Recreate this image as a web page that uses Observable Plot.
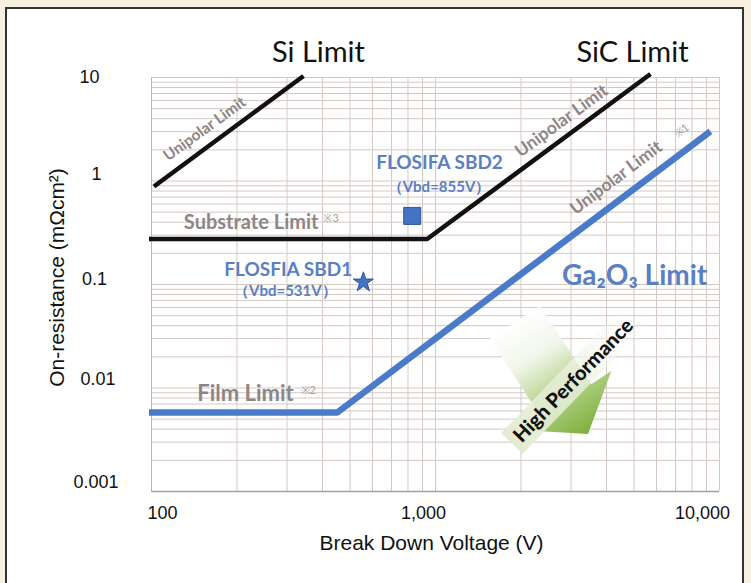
<!DOCTYPE html>
<html><head><meta charset="utf-8">
<script src="https://cdn.jsdelivr.net/npm/d3@7"></script>
<script src="https://cdn.jsdelivr.net/npm/@observablehq/plot@0.6"></script>
<style>
html,body{margin:0;padding:0;}
body{width:751px;height:583px;background:#f8f0df;position:relative;overflow:hidden;}
#panel{position:absolute;left:5px;top:7px;width:735px;height:620px;background:#fff;border:2px solid #333;border-bottom:none;}
#chart{position:absolute;left:0;top:0;}
</style></head><body><div id="panel"></div><div id="chart"></div>
<script>
// ---- axes ----
const xTickValues = [100, 1000, 10000];
const xTickLabels = ["100", "1,000", "10,000"];
const yTickValues = [10, 1, 0.1, 0.01, 0.001];
const yTickLabels = ["10", "1", "0.1", "0.01", "0.001"];
const xAxisTitle = "Break Down Voltage (V)";
const yAxisTitle = "On-resistance (mΩcm²)";

// ---- limit lines (Break down voltage V, On-resistance mΩcm²) ----
const siX = [102, 343];
const siY = [0.885, 10.35];
const sicX = [98, 935, 5715];
const sicY = [0.275, 0.275, 10.8];
const gaX = [98, 451, 9290];
const gaY = [0.0058, 0.0058, 3.01];

// ---- devices ----
const starX = [557];
const starY = [0.105];
const squareX = [828];
const squareY = [0.46];

// ---- annotations ----
const limitTitles = ["Si Limit", "SiC Limit"];
const limitTitleX = [387, 4940];
const limitTitleY = [17.3, 17.3];

const unipolarText = ["Unipolar Limit", "Unipolar Limit", "Unipolar Limit"];
const unipolarX = [154, 2780, 4325];
const unipolarY = [3.19, 3.81, 1.074];
const unipolarAngle = [-36, -36, -37];

const grayText = ["Substrate Limit", "Film Limit"];
const grayX = [130, 145];
const grayY = [0.395, 0.00883];

const noteText = ["※3", "※2", "※1"];
const noteX = [403, 335, 7000];
const noteY = [0.431, 0.00944, 2.75];

const deviceNames = ["FLOSFIA SBD1", "FLOSIFA SBD2"];
const deviceNameX = [303, 1033];
const deviceNameY = [0.139, 1.48];
const deviceVbdText = ["（Vbd=531V）", "（Vbd=855V）"];
const deviceVbdX = [296, 1029];
const deviceVbdY = [0.0871, 0.865];

const gaTitle = ["Ga₂O₃ Limit"];
const gaTitleX = [5024];
const gaTitleY = [0.1216];

const hpText = ["High Performance"];
const hpX = [3062];
const hpY = [0.01178];
const hpAngle = -46;
const arrowFrom = [1912, 0.0428];
const arrowTo = [3457, 0.00355];

const xGrid = d3.scaleLog().domain([100, 10000]).ticks();
const yGrid = d3.scaleLog().domain([0.001, 10]).ticks();

const blue = "#4a7bc8", blueText = "#5a80c3", gray = "#8e8686";
const ann = "Lato, 'Open Sans', sans-serif";
const axisFont = "'Liberation Sans', Arial, sans-serif";

function highPerformance(index, scales) {
  const X = scales.x, Y = scales.y;
  const t = [X(arrowFrom[0]), Y(arrowFrom[1])];
  const p = [X(arrowTo[0]), Y(arrowTo[1])];
  const dx = p[0] - t[0], dy = p[1] - t[1], len = Math.hypot(dx, dy);
  const u = [dx / len, dy / len], n = [-u[1], u[0]];
  const headLen = 40, headHalf = 54, shaftHalf = 30;
  const b = [p[0] - u[0] * headLen, p[1] - u[1] * headLen];
  const off = (c, k) => [c[0] + n[0] * k, c[1] + n[1] * k];
  const poly = [off(t, shaftHalf), off(b, shaftHalf), off(b, headHalf), p, off(b, -headHalf), off(b, -shaftHalf), off(t, -shaftHalf)];
  const g = d3.create("svg:g");
  const defs = g.append("defs");
  const grad = defs.append("linearGradient").attr("id", "hpArrowGrad")
    .attr("gradientUnits", "userSpaceOnUse")
    .attr("x1", t[0]).attr("y1", t[1]).attr("x2", p[0]).attr("y2", p[1]);
  [[0, "#ffffff"], [0.3, "#f1f6ea"], [0.6, "#b8d58f"], [1, "#7daf3c"]]
    .forEach(([o, c]) => grad.append("stop").attr("offset", o).attr("stop-color", c));
  const bg = defs.append("linearGradient").attr("id", "hpBandGrad");
  [[0, "#e2eacf", 0.95], [0.6, "#f0f4e8", 0.7], [1, "#ffffff", 0]]
    .forEach(([o, c, op]) => bg.append("stop").attr("offset", o).attr("stop-color", c).attr("stop-opacity", op));
  g.append("path").attr("d", "M" + poly.map(q => q.join(",")).join("L") + "Z").attr("fill", "url(#hpArrowGrad)");
  const c = [X(hpX[0]), Y(hpY[0])];
  g.append("rect").attr("x", -88).attr("y", -15).attr("width", 185).attr("height", 30)
    .attr("transform", `translate(${c[0]},${c[1]}) rotate(${hpAngle})`)
    .attr("fill", "url(#hpBandGrad)");
  return g.node();
}

const xNudge = [11, -12, -17];
const yNudgeX = [-62, -55, -57, -53.5, -55.5];
const yNudgeY = [0, -7, -5, -8.5, -9];

const chart = Plot.plot({
  width: 751, height: 583,
  marginLeft: 151, marginRight: 32, marginTop: 77, marginBottom: 92,
  x: {type: "log", domain: [100, 10000], axis: null},
  y: {type: "log", domain: [0.001, 10], axis: null},
  style: {background: "transparent", overflow: "visible"},
  marks: [
    Plot.ruleX(xGrid, {stroke: "#d4c8c5", strokeWidth: 1}),
    Plot.ruleY(yGrid, {stroke: "#d4c8c5", strokeWidth: 1}),
    Plot.ruleY([0.001], {stroke: "#a89e9b", strokeWidth: 1.5}),
    Plot.ruleX([100], {stroke: "#bfb5b2", strokeWidth: 1}),
    highPerformance,
    Plot.text(hpText, {x: () => hpX[0], y: () => hpY[0], text: d => d, rotate: hpAngle, fontFamily: ann, fontWeight: 900, fontSize: 20, fill: "#111"}),
    Plot.line(siX.map((x, i) => ({x, y: siY[i]})), {x: "x", y: "y", stroke: "#111", strokeWidth: 4.5, strokeLinecap: "butt"}),
    Plot.line(sicX.map((x, i) => ({x, y: sicY[i]})), {x: "x", y: "y", stroke: "#111", strokeWidth: 4.5, strokeLinecap: "butt", strokeLinejoin: "miter"}),
    Plot.line(gaX.map((x, i) => ({x, y: gaY[i]})), {x: "x", y: "y", stroke: blue, strokeWidth: 6.5, strokeLinecap: "butt", strokeLinejoin: "miter"}),
    Plot.dot(starX, {x: d => d, y: (d, i) => starY[i], symbol: "star", r: 6.3, fill: "#4472c4", stroke: "#2f5597", strokeWidth: 1}),
    Plot.dot(squareX, {x: d => d, y: (d, i) => squareY[i], symbol: "square", r: 9.6, fill: "#4472c4", stroke: "#2f5597", strokeWidth: 1}),
    Plot.text(limitTitles, {x: (d, i) => limitTitleX[i], y: (d, i) => limitTitleY[i], text: d => d, fontFamily: ann, fontSize: 29, fill: "#111"}),
    Plot.text(unipolarText, {x: (d, i) => unipolarX[i], y: (d, i) => unipolarY[i], text: d => d, rotate: (d, i) => unipolarAngle[i], fontFamily: ann, fontWeight: "bold", fontSize: (d, i) => i === 0 ? 15.5 : 17.5, fill: gray}),
    Plot.text(grayText, {x: (d, i) => grayX[i], y: (d, i) => grayY[i], text: d => d, textAnchor: "start", fontFamily: ann, fontWeight: "bold", fontSize: (d, i) => i === 0 ? 20 : 22, fill: gray}),
    Plot.text(noteText, {x: (d, i) => noteX[i], y: (d, i) => noteY[i], text: d => d, textAnchor: "start", rotate: (d, i) => i === 2 ? -37 : 0, fontFamily: ann, fontSize: 11, fill: "#a59d9d"}),
    Plot.text(deviceNames, {x: (d, i) => deviceNameX[i], y: (d, i) => deviceNameY[i], text: d => d, fontFamily: ann, fontWeight: "bold", fontSize: 19, fill: blueText}),
    Plot.text(deviceVbdText, {x: (d, i) => deviceVbdX[i], y: (d, i) => deviceVbdY[i], text: d => d, fontFamily: ann, fontWeight: "bold", fontSize: 15, fill: blueText}),
    Plot.text(gaTitle, {x: (d, i) => gaTitleX[i], y: (d, i) => gaTitleY[i], text: d => d, fontFamily: ann, fontWeight: "bold", fontSize: 28, fill: blueText}),
    ...xTickValues.map((v, i) => Plot.text([v], {x: d => d, text: () => xTickLabels[i], frameAnchor: "bottom", textAnchor: "middle", dy: 27, dx: xNudge[i], fontFamily: axisFont, fontSize: 18, fill: "#111"})),
    ...yTickValues.map((v, i) => Plot.text([v], {y: d => d, text: () => yTickLabels[i], frameAnchor: "left", textAnchor: "middle", dx: yNudgeX[i], dy: yNudgeY[i], fontFamily: axisFont, fontSize: 18, fill: "#111"})),
    Plot.text([xAxisTitle], {frameAnchor: "bottom", textAnchor: "middle", text: d => d, dy: 58, dx: -4, fontFamily: axisFont, fontSize: 21, fill: "#111"}),
    Plot.text([yAxisTitle], {frameAnchor: "left", textAnchor: "middle", text: d => d, rotate: -90, dx: -94, dy: -7, fontFamily: axisFont, fontSize: 21, fill: "#111"})
  ]
});
document.getElementById("chart").appendChild(chart);
</script></body></html>
